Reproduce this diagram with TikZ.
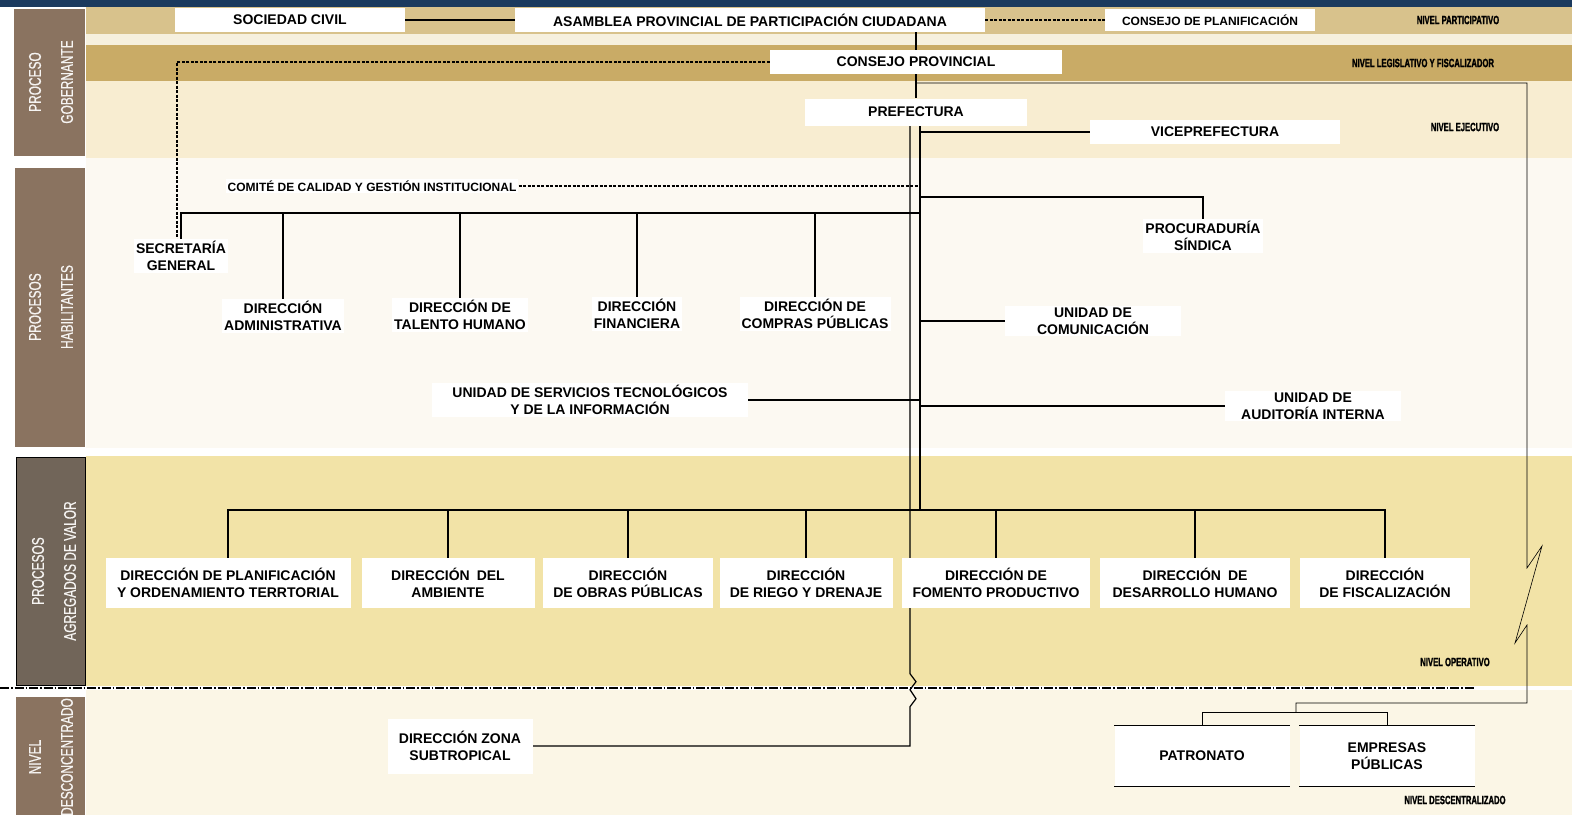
\documentclass[tikz,border=0pt]{standalone}
\usepackage{fontspec}
\setmainfont{Liberation Sans}
\newfontfamily\nivelfont{Liberation Sans}[FakeStretch=0.64, FakeBold=1.4]
\newfontfamily\ladofont{Liberation Sans}[FakeStretch=0.7, FakeBold=0.5]
\usetikzlibrary{backgrounds}
\definecolor{marino}{HTML}{1B3A5E}
\definecolor{cafe}{HTML}{8A7360}
\definecolor{cafeosc}{HTML}{716559}
\definecolor{arena}{HTML}{D8C28C}
\definecolor{arenaosc}{HTML}{C9AB66}
\definecolor{franja}{HTML}{F6F0DE}
\definecolor{crema}{HTML}{F8EDD1}
\definecolor{hueso}{HTML}{FCF9F2}
\definecolor{trigo}{HTML}{F2E3A7}
\definecolor{marfil}{HTML}{FBF6E6}

\begin{document}
\begin{tikzpicture}[x=1pt, y=-1pt,
  caja/.style={fill=white, align=center, inner sep=2pt, font=\bfseries\fontsize{14}{17}\selectfont},
  nivel/.style={font=\nivelfont\bfseries\fontsize{12}{13}\selectfont},
  lado/.style={text=white!92!cafe, rotate=90, align=center, font=\ladofont\fontsize{17}{32}\selectfont},
  linea/.style={line width=1.2pt},
  fina/.style={line width=0.6pt},
  punteada/.style={line width=1.1pt, dash pattern=on 3pt off 1.5pt},
  separa/.style={line width=1.4pt, dash pattern=on 9pt off 2pt on 1.5pt off 2pt}]
  \useasboundingbox (0,0) rectangle (1572,815);
  \node[lado] (lgob) at (51,82) {PROCESO\\GOBERNANTE};
  \node[lado] (lhab) at (51,307) {PROCESOS\\HABILITANTES};
  \node[lado] (lagr) at (54,571) {PROCESOS\\AGREGADOS DE VALOR};
  \node[lado] (ldes) at (51,757) {NIVEL\\DESCONCENTRADO};

  \node[caja, minimum width=230pt, minimum height=24pt] (soc) at (290,20) {SOCIEDAD CIVIL};
  \node[caja, minimum width=470pt, minimum height=24pt] (asam) at (750,20) {ASAMBLEA PROVINCIAL DE PARTICIPACIÓN CIUDADANA};
  \node[caja, minimum width=210pt, minimum height=22pt, font=\bfseries\fontsize{12}{14}\selectfont] (cplan) at (1210,20) {CONSEJO DE PLANIFICACIÓN};
  \node[nivel] (npart) at (1458,20) {NIVEL PARTICIPATIVO};
  \node[caja, minimum width=292pt, minimum height=24pt] (cprov) at (916,62) {CONSEJO PROVINCIAL};
  \node[nivel] (nleg) at (1423,63) {NIVEL LEGISLATIVO Y FISCALIZADOR};
  \node[caja, minimum width=222pt, minimum height=27pt] (pref) at (916,112) {PREFECTURA};
  \node[caja, minimum width=250pt, minimum height=24pt] (vice) at (1215,132) {VICEPREFECTURA};
  \node[nivel] (neje) at (1465,127) {NIVEL EJECUTIVO};

  \node[caja, font=\bfseries\fontsize{12}{14}\selectfont] (comite) at (372,186) {COMITÉ DE CALIDAD Y GESTIÓN INSTITUCIONAL};
  \node[caja] (secgen) at (181,256) {SECRETARÍA\\GENERAL};
  \node[caja] (dadm) at (283,316) {DIRECCIÓN\\ADMINISTRATIVA};
  \node[caja] (dtal) at (460,315) {DIRECCIÓN DE\\TALENTO HUMANO};
  \node[caja] (dfin) at (637,314) {DIRECCIÓN\\FINANCIERA};
  \node[caja] (dcomp) at (815,314) {DIRECCIÓN DE\\COMPRAS PÚBLICAS};
  \node[caja] (proc) at (1203,236) {PROCURADURÍA\\SÍNDICA};
  \node[caja, minimum width=176pt] (ucom) at (1093,321) {UNIDAD DE\\COMUNICACIÓN};
  \node[caja, minimum width=316pt] (utec) at (590,400) {UNIDAD DE SERVICIOS TECNOLÓGICOS\\Y DE LA INFORMACIÓN};
  \node[caja, minimum width=176pt] (uaud) at (1313,406) {UNIDAD DE\\AUDITORÍA INTERNA};

  \node[caja, minimum width=245pt, minimum height=50pt] (dplan) at (228,583) {DIRECCIÓN DE PLANIFICACIÓN\\Y ORDENAMIENTO TERRTORIAL};
  \node[caja, minimum width=173pt, minimum height=50pt] (damb) at (448,583) {DIRECCIÓN\enspace DEL\\AMBIENTE};
  \node[caja, minimum width=170pt, minimum height=50pt] (dobr) at (628,583) {DIRECCIÓN\\DE OBRAS PÚBLICAS};
  \node[caja, minimum width=173pt, minimum height=50pt] (drieg) at (806,583) {DIRECCIÓN\\DE RIEGO Y DRENAJE};
  \node[caja, minimum width=188pt, minimum height=50pt] (dfom) at (996,583) {DIRECCIÓN DE\\FOMENTO PRODUCTIVO};
  \node[caja, minimum width=190pt, minimum height=50pt] (ddes) at (1195,583) {DIRECCIÓN\enspace DE\\DESARROLLO HUMANO};
  \node[caja, minimum width=170pt, minimum height=50pt] (dfis) at (1385,583) {DIRECCIÓN\\DE FISCALIZACIÓN};
  \node[nivel] (nop) at (1455,662) {NIVEL OPERATIVO};

  \node[caja, minimum width=145pt, minimum height=55pt] (dzona) at (460,746) {DIRECCIÓN ZONA\\SUBTROPICAL};
  \node[caja, minimum width=175pt, minimum height=60pt] (patr) at (1202,756) {PATRONATO};
  \node[caja, minimum width=175pt, minimum height=60pt] (emp) at (1387,756) {EMPRESAS\\PÚBLICAS};
  \node[nivel] (ndes) at (1455,800) {NIVEL DESCENTRALIZADO};

  \coordinate (der) at (1527,83);
  \coordinate (codo) at (1296,703);
  \coordinate (pe) at (1296,712);
  \coordinate (rama) at (920,197);
  \coordinate (hab) at (920,213);
  \coordinate (bus) at (920,510);

  \begin{pgfonlayer}{background}
    \fill[white] (0,0) rectangle (1572,815);
    \fill[marino] (0,0) rectangle (1572,7);
    \fill[arena] (86,7) rectangle (1572,34);
    \fill[franja] (86,34) rectangle (1572,45);
    \fill[arenaosc] (86,45) rectangle (1572,81);
    \fill[crema] (86,81) rectangle (1572,158);
    \fill[hueso] (86,158) rectangle (1572,448);
    \fill[trigo] (86,456) rectangle (1572,686);
    \fill[marfil] (86,690) rectangle (1572,815);
    \fill[cafe] (14,9) rectangle (85,156);
    \fill[cafe] (15,168) rectangle (85,447);
    \filldraw[fill=cafeosc, draw=black, line width=1pt] (16,457) rectangle (85,685);
    \fill[cafe] (16,697) rectangle (85,815);
    \draw[separa] (0,688) -- (1475,688);

    \draw[linea] (soc) -- (asam);
    \draw[punteada] (asam) -- (cplan);
    \draw[linea] (cprov.north |- asam.south) -- (cprov.north);
    \draw[linea] (cprov) -- (pref);
    \draw[punteada] (cprov.west) -| ([xshift=-4pt]secgen.north);
    \draw[fina] (cprov.south |- der) -- (der) -- ++(0,485) -- ++(15,-22) -- ++(-27,97) -- ++(12,-18) |- (codo) -- (pe);
    \draw[fina] (patr.north) |- (pe) -| (emp.north);
    \foreach \n in {patr,emp} {
      \draw[linea] (\n.north west) -- (\n.north east);
      \draw[linea] (\n.south west) -- (\n.south east);
    }
    \draw[linea] (vice.west) -- (vice.west -| bus);
    \draw[linea] ([xshift=4pt]pref.south) -- (bus);
    \draw[linea] ([xshift=-6pt]pref.south) -- ++(0,548) -- ++(6,8) -- ++(-6,8) -- ++(6,9) -- ++(-6,8) |- (dzona.east);
    \draw[punteada] (comite.east) -- (comite.east -| bus);
    \draw[linea] (secgen.north) |- (hab);
    \foreach \n in {dadm,dtal,dfin,dcomp}
      \draw[linea] (\n.north) -- (\n.north |- hab);
    \draw[linea] (rama) -| (proc.north);
    \draw[linea] (ucom.west -| bus) -- (ucom.west);
    \draw[linea] (utec.east) -- (utec.east -| bus);
    \draw[linea] (uaud.west -| bus) -- (uaud.west);
    \draw[linea] (dplan.north) |- (bus) -| (dfis.north);
    \foreach \n in {damb,dobr,drieg,dfom,ddes}
      \draw[linea] (\n.north) -- (\n.north |- bus);
  \end{pgfonlayer}
\end{tikzpicture}
\end{document}
